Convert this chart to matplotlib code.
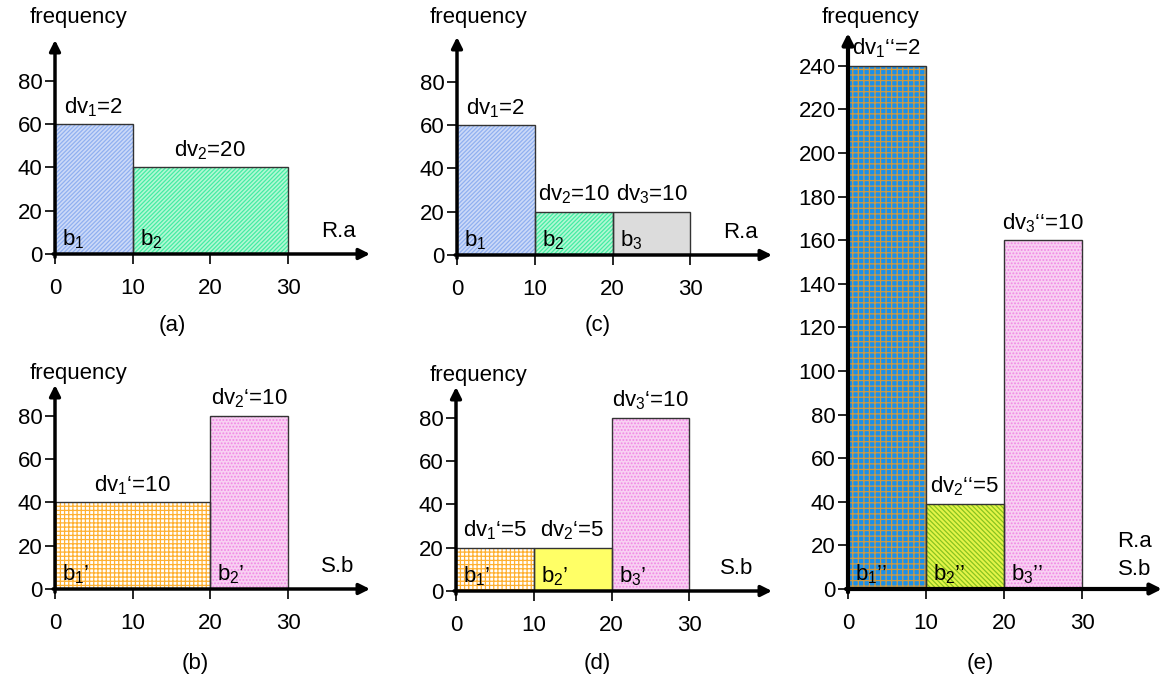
import matplotlib
matplotlib.use('Agg')
import matplotlib.pyplot as plt

plt.rcParams['font.family'] = ['Liberation Sans', 'DejaVu Sans']
plt.rcParams['mathtext.fontset'] = 'custom'
plt.rcParams['mathtext.rm'] = 'Liberation Sans'
plt.rcParams['mathtext.it'] = 'Liberation Sans:italic'
plt.rcParams['hatch.linewidth'] = 0.9

FS = 16

# ---- data ----
x_ticks = [0, 10, 20, 30]
small_yticks = [0, 20, 40, 60, 80]
big_yticks = [0, 20, 40, 60, 80, 100, 120, 140, 160, 180, 200, 220, 240]

# (a) histogram of R.a, 2 buckets
a_edges = [0, 10, 30]
a_freq = [60, 40]
a_dv = [2, 20]

# (c) histogram of R.a, 3 buckets
c_edges = [0, 10, 20, 30]
c_freq = [60, 20, 20]
c_dv = [2, 10, 10]

# (b) histogram of S.b, 2 buckets
b_edges = [0, 20, 30]
b_freq = [40, 80]
b_dv = [10, 10]

# (d) histogram of S.b, 3 buckets
d_edges = [0, 10, 20, 30]
d_freq = [20, 20, 80]
d_dv = [5, 5, 10]

# (e) join R.a = S.b
e_edges = [0, 10, 20, 30]
e_freq = [240, 39, 160]
e_dv = [2, 5, 10]

# fill styles: (face, hatch, hatch colour)
BLUE = ('#ccdaf8', '////////', '#90b0f0')
GREEN = ('#b4f8d4', '////////', '#44eca4')
GRAY = ('#dcdcdc', None, None)
ORANGE = ('white', '++++', '#ffb030')
PINK = ('#f8d0f2', '.....', '#f088e4')
YELLOW = ('#ffff66', None, None)
BLUEGRID = ('#1890ec', '+++', '#d09a40')
LIME = ('#e4f448', '\\\\\\\\\\\\\\', '#88c420')

W, H = 1162, 679
fig = plt.figure(figsize=(W / 100, H / 100), dpi=100)


def panel(x0, y0, right, top, xs, ys, edges, freq, dv, styles, yticks,
          dvp='', bp='', axw=2.5):
    ax = fig.add_axes([x0 / W, 1 - y0 / H, (right - x0) / W, (y0 - top) / H])
    xmax = (right - x0) / xs
    ymax = (y0 - top) / ys
    ax.set_xlim(0, xmax)
    ax.set_ylim(0, ymax)
    for s in ax.spines.values():
        s.set_visible(False)
    ax.patch.set_alpha(0)
    ax.set_xticks(x_ticks)
    ax.set_yticks(yticks)
    ax.tick_params(labelsize=FS, length=7.5, width=1.2)
    ax.tick_params(axis='x', pad=10)
    ax.tick_params(axis='y', pad=1.5)
    for i in range(len(freq)):
        left = edges[i]
        w = edges[i + 1] - edges[i]
        face, hatch, hc = styles[i]
        if hatch:
            ax.bar(left, freq[i], w, align='edge', color=face, hatch=hatch,
                   edgecolor=hc, linewidth=0, zorder=2)
        else:
            ax.bar(left, freq[i], w, align='edge', color=face, linewidth=0, zorder=2)
        ax.bar(left, freq[i], w, align='edge', fill=False, edgecolor='#333333',
               linewidth=1, zorder=3)
        ax.annotate('dv$_{%d}$%s=%d' % (i + 1, dvp, dv[i]), (left + w / 2, freq[i]),
                    xytext=(0, 8), textcoords='offset points', ha='center',
                    va='baseline', fontsize=FS, zorder=7)
        ax.annotate('b$_{%d}$%s' % (i + 1, bp), (left, 0), xytext=(5, 6),
                    textcoords='offset points', ha='left', va='baseline',
                    fontsize=FS, zorder=7)
    arr = dict(arrowstyle='-|>', lw=axw, color='k', mutation_scale=16,
               shrinkA=0, shrinkB=0)
    ax.annotate('', xy=(xmax, 0), xytext=(-0.25, 0), arrowprops=arr,
                annotation_clip=False, zorder=6)
    ax.annotate('', xy=(0, ymax), xytext=(0, -1.5), arrowprops=arr,
                annotation_clip=False, zorder=6)
    return ax


ax_a = panel(55, 254, 370, 40, 7.77, 2.163, a_edges, a_freq, a_dv,
             [BLUE, GREEN], small_yticks)
ax_a.text(36.5, 8, 'R.a', ha='center', va='baseline', fontsize=FS)

ax_c = panel(457, 255, 772, 37, 7.78, 2.166, c_edges, c_freq, c_dv,
             [BLUE, GREEN, GRAY], small_yticks)
ax_c.text(36.4, 8, 'R.a', ha='center', va='baseline', fontsize=FS)

ax_b = panel(55, 589, 370, 385, 7.77, 2.163, b_edges, b_freq, b_dv,
             [ORANGE, PINK], small_yticks, dvp='\u2018', bp='\u2019')
ax_b.text(36.4, 8, 'S.b', ha='center', va='baseline', fontsize=FS)

ax_d = panel(456, 591, 772, 387, 7.78, 2.166, d_edges, d_freq, d_dv,
             [ORANGE, YELLOW, PINK], small_yticks, dvp='\u2018', bp='\u2019')
ax_d.text(36.1, 8, 'S.b', ha='center', va='baseline', fontsize=FS)

ax_e = panel(848, 589, 1162, 33, 7.8, 2.18, e_edges, e_freq, e_dv,
             [BLUEGRID, LIME, PINK], big_yticks, dvp='\u2018\u2018',
             bp='\u2019\u2019', axw=3)
ax_e.text(36.7, 19.4, 'R.a', ha='center', va='baseline', fontsize=FS)
ax_e.text(36.7, 6.4, 'S.b', ha='center', va='baseline', fontsize=FS)

# axis titles and panel captions (pixel positions)
for x, y in [(78, 18), (479, 18), (78, 373), (479, 375), (870, 18)]:
    fig.text(x / W, 1 - y / H, 'frequency', ha='center', va='center', fontsize=FS)
for s, x, y in [('(a)', 172, 325), ('(c)', 598, 325), ('(b)', 195, 663),
                ('(d)', 597, 663), ('(e)', 980, 663)]:
    fig.text(x / W, 1 - y / H, s, ha='center', va='center', fontsize=FS)

fig.savefig('out.png', dpi=100)
